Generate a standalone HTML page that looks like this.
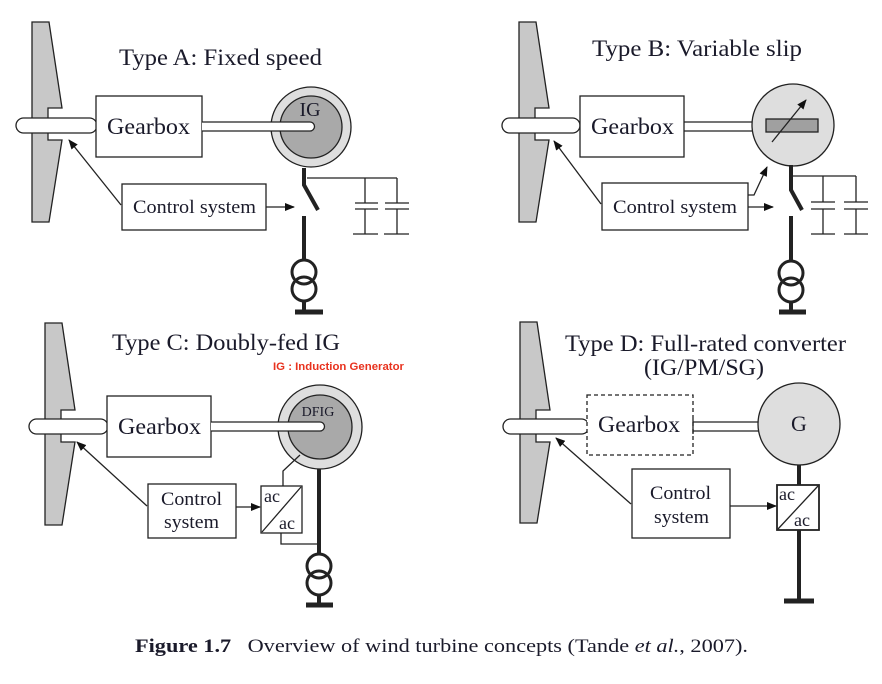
<!DOCTYPE html>
<html><head><meta charset="utf-8"><style>
html,body{margin:0;padding:0;background:#fff;}
svg{display:block;}
text{font-family:"Liberation Serif",serif;fill:#1a1a2a;}
</style></head><body>
<svg width="882" height="684" viewBox="0 0 882 684" xmlns="http://www.w3.org/2000/svg">
<defs>
<marker id="ar" markerWidth="10" markerHeight="8" refX="9" refY="4" orient="auto" markerUnits="userSpaceOnUse">
<path d="M0,0 L10,4 L0,8 Z" fill="#111"/></marker>
</defs>
<g stroke="#222" stroke-width="1.3" fill="none">

<!-- ===== Type A ===== -->
<polygon points="32,22 49,22 62,108 48,108 48,140 62,140 49,222 32,222" fill="#c8c8c8"/>
<rect x="16" y="118" width="81" height="15" rx="7.5" fill="#fff"/>
<rect x="96" y="96" width="106" height="61" fill="#fff"/>
<circle cx="311" cy="127" r="40" fill="#dedede"/>
<circle cx="311" cy="127" r="31" fill="#a9a9a9"/>
<path d="M202,122 H310 A4.5,4.5 0 0 1 310,131 H202" fill="#fff"/>
<path d="M304,168 V185 L318,210" stroke-width="4"/>
<path d="M304,216 V259" stroke-width="4"/>
<circle cx="304" cy="272" r="12" stroke-width="3"/>
<circle cx="304" cy="289" r="12" stroke-width="3"/>
<path d="M304,301 V311" stroke-width="4"/>
<path d="M295,312 H323" stroke-width="5"/>
<path d="M307,178 H397 M365,178 V203 M397,178 V203 M355,203 H378 M355,209 H378 M385,203 H409 M385,209 H409 M365,209 V234 M397,209 V234 M353,234 H378 M384,234 H409"/>
<rect x="122" y="184" width="144" height="46" fill="#fff"/>
<path d="M266,207 H294" marker-end="url(#ar)"/>
<path d="M121,205 L69,140" marker-end="url(#ar)"/>

<!-- ===== Type B ===== -->
<polygon points="519,22 536,22 549,108 535,108 535,140 549,140 536,222 519,222" fill="#c8c8c8"/>
<rect x="502" y="118" width="78" height="15" rx="7.5" fill="#fff"/>
<rect x="580" y="96" width="104" height="61" fill="#fff"/>
<path d="M684,122 H753 M684,131 H753"/>
<circle cx="793" cy="125" r="41" fill="#dedede"/>
<rect x="766" y="119" width="52" height="13" fill="#a0a0a0"/>
<path d="M772,142 L806,100" marker-end="url(#ar)"/>
<path d="M791,165 V190 L802,210" stroke-width="4"/>
<path d="M791,216 V261" stroke-width="4"/>
<circle cx="791" cy="273" r="12" stroke-width="3"/>
<circle cx="791" cy="290" r="12" stroke-width="3"/>
<path d="M791,302 V311" stroke-width="4"/>
<path d="M779,312 H806" stroke-width="5"/>
<path d="M793,176 H856 M823,176 V202 M856,176 V202 M811,202 H835 M811,209 H835 M844,202 H868 M844,209 H868 M823,209 V234 M856,209 V234 M811,234 H835 M844,234 H868"/>
<rect x="602" y="183" width="146" height="47" fill="#fff"/>
<path d="M748,195 H754 L767,167" marker-end="url(#ar)"/>
<path d="M748,207 H773" marker-end="url(#ar)"/>
<path d="M601,204 L554,141" marker-end="url(#ar)"/>

<!-- ===== Type C ===== -->
<polygon points="45,323 62,323 75,410 61,410 61,442 75,442 62,525 45,525" fill="#c8c8c8"/>
<rect x="29" y="419" width="79" height="15" rx="7.5" fill="#fff"/>
<rect x="107" y="396" width="104" height="61" fill="#fff"/>
<circle cx="320" cy="427" r="42" fill="#dedede"/>
<circle cx="320" cy="427" r="32" fill="#a9a9a9"/>
<path d="M211,422 H320 A4.5,4.5 0 0 1 320,431 H211" fill="#fff"/>
<path d="M319,469 V555" stroke-width="4"/>
<circle cx="319" cy="566" r="12" stroke-width="3"/>
<circle cx="319" cy="583" r="12" stroke-width="3"/>
<path d="M319,595 V604" stroke-width="4"/>
<path d="M306,605 H333" stroke-width="5"/>
<rect x="261" y="486" width="41" height="47" fill="#fff"/>
<path d="M262,532 L301,487"/>
<path d="M283,486 V471 L300,455"/>
<path d="M281,533 V544 H319"/>
<rect x="148" y="484" width="88" height="54" fill="#fff"/>
<path d="M236,507 H260" marker-end="url(#ar)"/>
<path d="M147,506 L77,442" marker-end="url(#ar)"/>

<!-- ===== Type D ===== -->
<polygon points="520,322 537,322 550,410 536,410 536,442 550,442 537,523 520,523" fill="#c8c8c8"/>
<rect x="503" y="419" width="86" height="15" rx="7.5" fill="#fff"/>
<rect x="587" y="395" width="106" height="60" fill="#fff" stroke-dasharray="4,3"/>
<path d="M693,422 H759 M693,431 H759 M693,419 V434"/>
<circle cx="799" cy="424" r="41" fill="#dedede"/>
<path d="M799,465 V485" stroke-width="4"/>
<rect x="777" y="485" width="42" height="45" fill="#fff" stroke-width="1.8"/>
<path d="M778,529 L818,486"/>
<path d="M799,530 V600" stroke-width="4"/>
<path d="M784,601 H814" stroke-width="5"/>
<rect x="632" y="469" width="98" height="69" fill="#fff"/>
<path d="M730,506 H776" marker-end="url(#ar)"/>
<path d="M631,504 L556,438" marker-end="url(#ar)"/>
</g>

<!-- Text -->
<text x="119" y="65" font-size="23" textLength="203" lengthAdjust="spacingAndGlyphs">Type A: Fixed speed</text>
<text x="107" y="134" font-size="23" textLength="83" lengthAdjust="spacingAndGlyphs">Gearbox</text>
<text x="310" y="116" font-size="20" text-anchor="middle" fill="#333">IG</text>
<text x="133" y="213" font-size="19" textLength="123" lengthAdjust="spacingAndGlyphs">Control system</text>

<text x="592" y="56" font-size="23" textLength="210" lengthAdjust="spacingAndGlyphs">Type B: Variable slip</text>
<text x="591" y="134" font-size="23" textLength="83" lengthAdjust="spacingAndGlyphs">Gearbox</text>
<text x="613" y="213" font-size="19" textLength="124" lengthAdjust="spacingAndGlyphs">Control system</text>

<text x="112" y="350" font-size="23" textLength="228" lengthAdjust="spacingAndGlyphs">Type C: Doubly-fed IG</text>
<text x="273" y="370" font-size="11" font-weight="bold" textLength="131" lengthAdjust="spacingAndGlyphs" style="font-family:'Liberation Sans',sans-serif;fill:#e8321e">IG : Induction Generator</text>
<text x="118" y="434" font-size="23" textLength="83" lengthAdjust="spacingAndGlyphs">Gearbox</text>
<text x="318" y="416" font-size="14" text-anchor="middle" fill="#333">DFIG</text>
<text x="161" y="505" font-size="19" textLength="61" lengthAdjust="spacingAndGlyphs">Control</text>
<text x="164" y="528" font-size="19" textLength="55" lengthAdjust="spacingAndGlyphs">system</text>
<text x="264" y="502" font-size="18">ac</text>
<text x="279" y="529" font-size="18">ac</text>

<text x="565" y="351" font-size="23" textLength="281" lengthAdjust="spacingAndGlyphs">Type D: Full-rated converter</text>
<text x="644" y="375" font-size="23" textLength="120" lengthAdjust="spacingAndGlyphs">(IG/PM/SG)</text>
<text x="598" y="432" font-size="23" textLength="82" lengthAdjust="spacingAndGlyphs">Gearbox</text>
<text x="799" y="431" font-size="22" text-anchor="middle">G</text>
<text x="650" y="499" font-size="19" textLength="61" lengthAdjust="spacingAndGlyphs">Control</text>
<text x="654" y="523" font-size="19" textLength="55" lengthAdjust="spacingAndGlyphs">system</text>
<text x="779" y="500" font-size="18">ac</text>
<text x="794" y="526" font-size="18">ac</text>

<text x="135" y="652" font-size="19" textLength="613" lengthAdjust="spacingAndGlyphs"><tspan font-weight="bold">Figure 1.7</tspan><tspan dx="14">Overview of wind turbine concepts (Tande </tspan><tspan font-style="italic">et al.</tspan>, 2007).</text>
</svg>
</body></html>
